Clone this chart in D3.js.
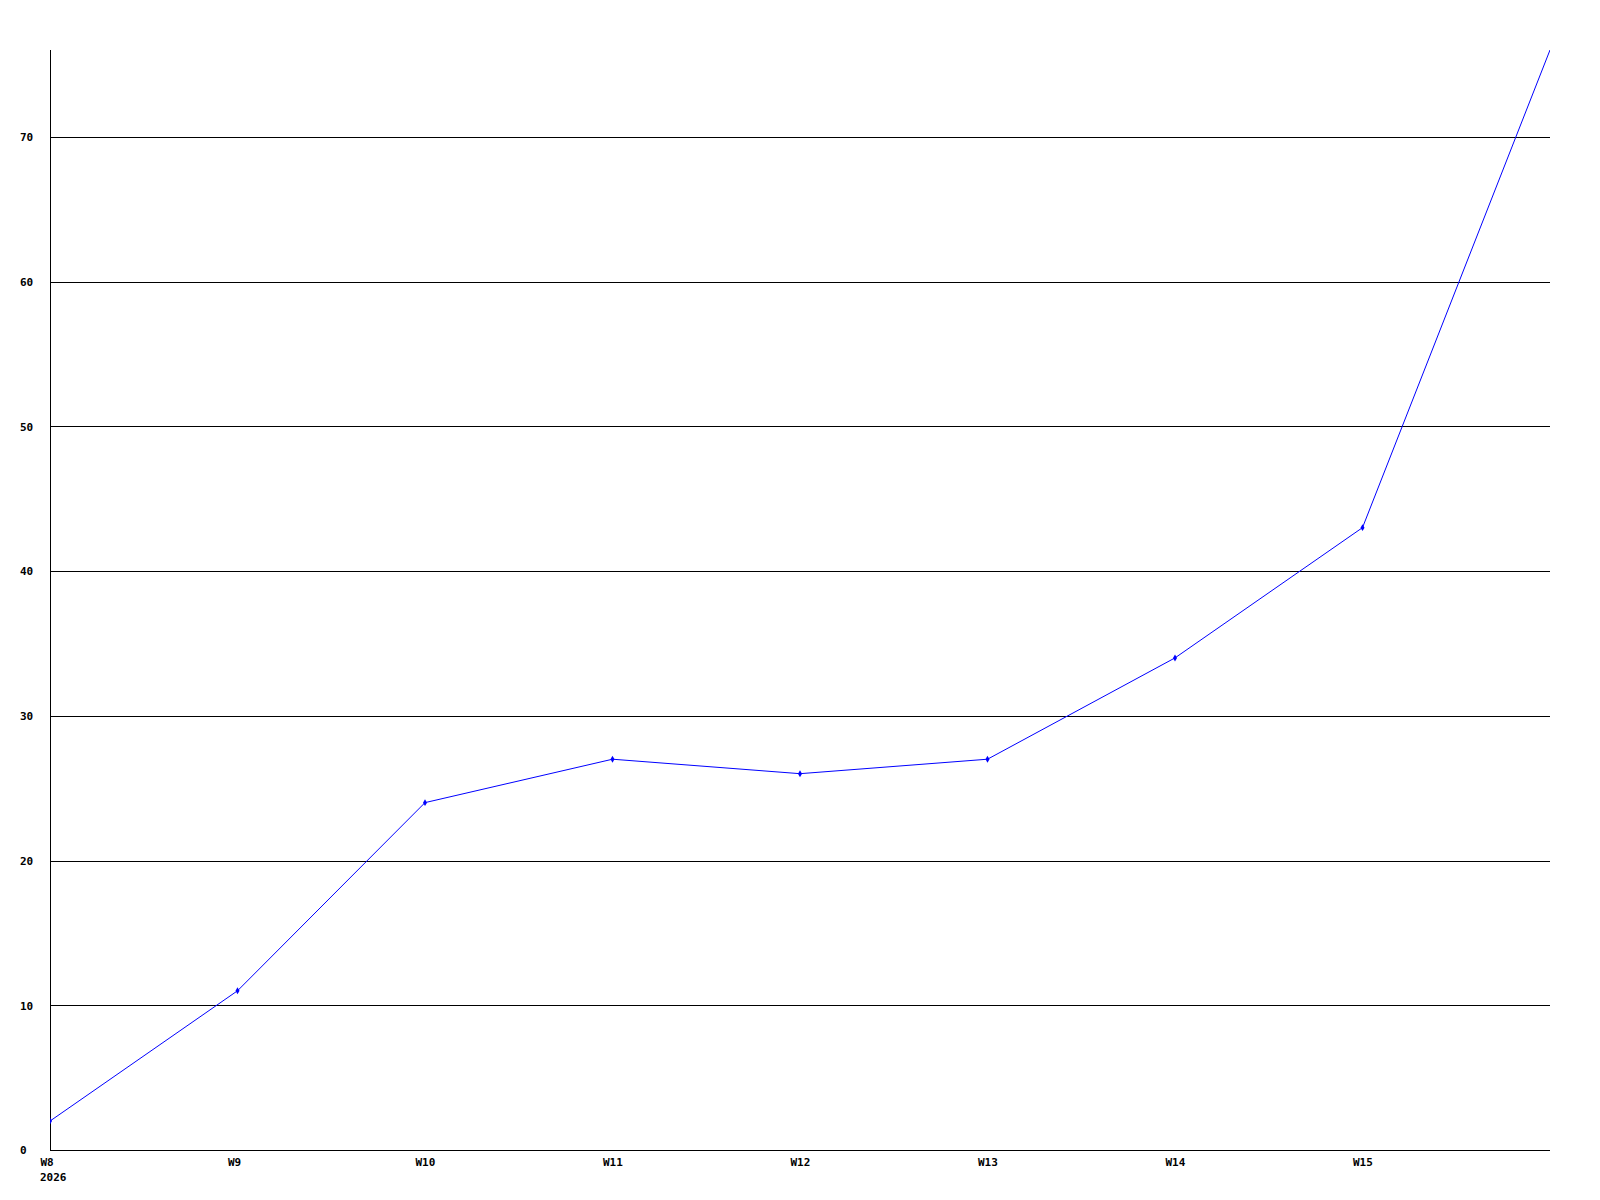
<!DOCTYPE html>
<html>
<head>
<meta charset="utf-8">
<script src="https://cdn.jsdelivr.net/npm/d3@7"></script>
<style>
  html, body { margin: 0; padding: 0; background: #fff; }
  svg { display: block; }
  text { font-family: "DejaVu Sans Mono", monospace; font-weight: bold; font-size: 11px; fill: #000; }
</style>
</head>
<body>
<svg id="chart" width="1600" height="1200"></svg>
<script>
const weeks = ["W8", "W9", "W10", "W11", "W12", "W13", "W14", "W15", "W16"];
const counts = [2, 11, 24, 27, 26, 27, 34, 43, 76];
const labeledWeeks = ["W8", "W9", "W10", "W11", "W12", "W13", "W14", "W15"];
const yTicks = [0, 10, 20, 30, 40, 50, 60, 70];
const yearLabel = "2026";

function drawChart() {
  const svg = d3.select("#chart");
  svg.selectAll("*").remove();

  const margin = { top: 50, right: 50, bottom: 50, left: 50 };
  const width = 1600 - margin.left - margin.right;
  const height = 1200 - margin.top - margin.bottom;

  svg.append("defs").append("clipPath")
    .attr("id", "clip")
    .append("rect")
    .attr("x", 0)
    .attr("y", 0)
    .attr("width", width)
    .attr("height", height);

  const g = svg.append("g")
    .attr("transform", `translate(${margin.left},${margin.top})`);

  const x = d3.scalePoint()
    .domain(weeks)
    .range([0, width]);

  const y = d3.scaleLinear()
    .domain([0, d3.max(counts)])
    .range([height, 0]);

  // gridlines + y labels
  const yAxis = g.append("g")
    .call(d3.axisLeft(y).tickValues(yTicks).tickSize(-width).tickFormat(d3.format("d")));
  yAxis.select(".domain").remove();
  yAxis.selectAll(".tick line")
    .attr("stroke", "#000")
    .attr("shape-rendering", "crispEdges");
  yAxis.selectAll(".tick text")
    .attr("x", -30)
    .attr("dy", "0.35em")
    .attr("text-anchor", "start");

  // x labels
  const xAxis = g.append("g")
    .attr("transform", `translate(0, ${height})`)
    .call(d3.axisBottom(x).tickValues(labeledWeeks).tickSize(0));
  xAxis.select(".domain").remove();
  xAxis.selectAll(".tick text")
    .attr("x", -10)
    .attr("y", 12)
    .attr("dy", "0.35em")
    .attr("text-anchor", "start");

  xAxis.append("text")
    .attr("x", x(weeks[0]) - 10)
    .attr("y", 27)
    .attr("dy", "0.35em")
    .attr("text-anchor", "start")
    .text(yearLabel);

  // axis lines
  g.append("line")
    .attr("x1", 0).attr("x2", 0)
    .attr("y1", 0).attr("y2", height)
    .attr("stroke", "#000")
    .attr("shape-rendering", "crispEdges");
  g.append("line")
    .attr("x1", 0).attr("x2", width)
    .attr("y1", height).attr("y2", height)
    .attr("stroke", "#000")
    .attr("shape-rendering", "crispEdges");

  const data = weeks.map((w, i) => ({ week: w, value: counts[i] }));

  const line = d3.line()
    .x(d => x(d.week))
    .y(d => y(d.value));

  g.append("path")
    .datum(data)
    .attr("clip-path", "url(#clip)")
    .attr("fill", "none")
    .attr("stroke", "#0000ff")
    .attr("stroke-width", 1)
    .attr("d", line);

  g.append("g")
    .attr("clip-path", "url(#clip)")
    .selectAll("path.pt")
    .data(data.slice(0, -1))
    .join("path")
    .attr("class", "pt")
    .attr("transform", d => `translate(${x(d.week)},${y(d.value)})`)
    .attr("d", d3.symbol(d3.symbolDiamond, 14))
    .attr("fill", "#0000ff");
}

window.addEventListener("DOMContentLoaded", drawChart);
</script>
</body>
</html>
